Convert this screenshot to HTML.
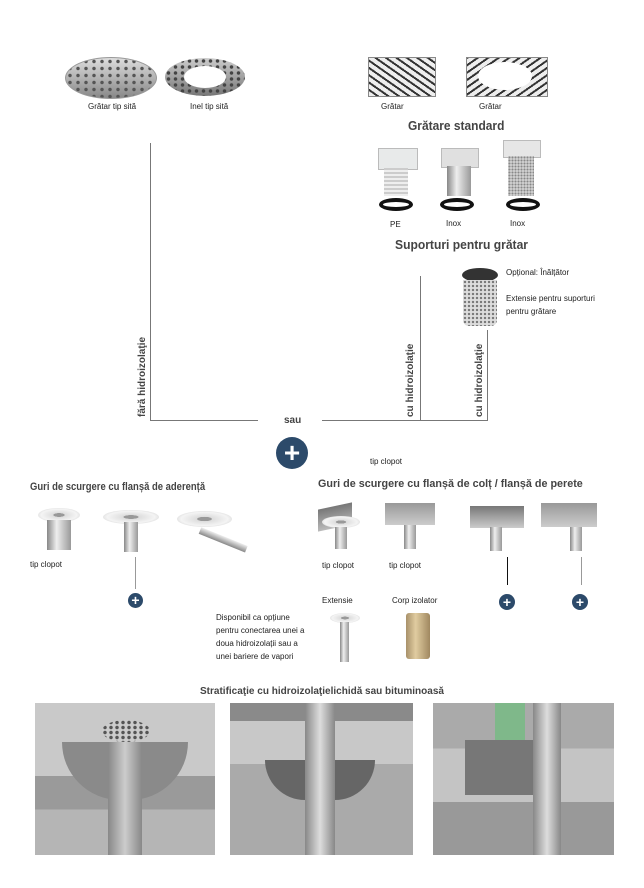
<!DOCTYPE html>
<html><head><meta charset="utf-8"><style>
body{margin:0;width:644px;height:888px;background:#fff;position:relative;overflow:hidden;font-family:"Liberation Sans",sans-serif;color:#222}
.a{position:absolute}
.t{position:absolute;font-size:8px;white-space:nowrap}
.b{position:absolute;font-weight:bold;color:#444;white-space:nowrap;transform-origin:left top}
.l{position:absolute;background:#777}
.pl{position:absolute;border-radius:50%;background:#2c4a6a;color:#fff;text-align:center;font-weight:bold;font-family:"Liberation Sans",sans-serif}
.rot{position:absolute;transform:rotate(-90deg);transform-origin:left top;font-weight:bold;font-size:10px;color:#444;white-space:nowrap}
.pipe{position:absolute;background:linear-gradient(90deg,#888,#eee 40%,#999);}
.disc{position:absolute;border-radius:50%;background:radial-gradient(#999 0 18%,#ddd 20%,#f4f4f4 60%,#bbb);}
.ring{position:absolute;border:4px solid #111;border-radius:50%;box-sizing:border-box}
</style></head><body>
<!-- round grates -->
<div class="a" style="left:65px;top:57px;width:90px;height:40px;border-radius:50%;background:radial-gradient(circle,#555 1.5px,transparent 2px) 0 0/8px 7px,linear-gradient(#ddd,#888);border:1px solid #999"></div>
<div class="a" style="left:165px;top:58px;width:80px;height:38px;border-radius:50%;background:radial-gradient(circle,#444 1.5px,transparent 2px) 0 0/7px 6px,linear-gradient(#ccc,#777)"></div>
<div class="a" style="left:184px;top:66px;width:42px;height:22px;border-radius:50%;background:#fff"></div>
<div class="t" style="left:88px;top:102px">Grătar tip sită</div>
<div class="t" style="left:190px;top:102px">Inel tip sită</div>
<!-- square grates -->
<div class="a" style="left:368px;top:57px;width:66px;height:38px;background:repeating-linear-gradient(35deg,#eee 0 4px,#333 4px 6px),#aaa;border:1px solid #888"></div>
<div class="a" style="left:466px;top:57px;width:80px;height:38px;background:repeating-linear-gradient(-35deg,#eee 0 4px,#333 4px 6px);border:1px solid #888"></div>
<div class="a" style="left:478px;top:62px;width:54px;height:28px;border-radius:50%;background:#fff"></div>
<div class="t" style="left:381px;top:102px">Grătar</div>
<div class="t" style="left:479px;top:102px">Grătar</div>
<div class="b" style="left:408px;top:118px;font-size:13px;transform:scaleX(0.92)">Grătare standard</div>
<!-- supports -->
<div class="a" style="left:378px;top:148px;width:38px;height:20px;background:#e8eaea;border:1px solid #bbb"></div>
<div class="a" style="left:384px;top:168px;width:24px;height:28px;background:repeating-linear-gradient(#ccc 0 2px,#eee 2px 4px)"></div>
<div class="a" style="left:441px;top:148px;width:36px;height:18px;background:#e0e0e0;border:1px solid #bbb"></div>
<div class="pipe" style="left:447px;top:166px;width:24px;height:30px"></div>
<div class="a" style="left:503px;top:140px;width:36px;height:16px;background:#e6e6e6;border:1px solid #bbb"></div>
<div class="a" style="left:508px;top:156px;width:26px;height:40px;background:radial-gradient(circle,#888 1px,transparent 1.3px) 0 0/3px 3px,#ddd"></div>
<div class="ring" style="left:379px;top:198px;width:34px;height:13px"></div>
<div class="ring" style="left:440px;top:198px;width:34px;height:13px"></div>
<div class="ring" style="left:506px;top:198px;width:34px;height:13px"></div>
<div class="t" style="left:390px;top:220px">PE</div>
<div class="t" style="left:446px;top:219px">Inox</div>
<div class="t" style="left:510px;top:219px">Inox</div>
<div class="b" style="left:395px;top:237px;font-size:13px;transform:scaleX(0.93)">Suporturi pentru grătar</div>
<!-- extension -->
<div class="a" style="left:462px;top:268px;width:36px;height:14px;border-radius:50%;background:#333"></div>
<div class="a" style="left:463px;top:280px;width:34px;height:46px;background:radial-gradient(circle,#777 1px,transparent 1.4px) 0 0/4px 4px,#ddd;border-radius:0 0 6px 6px"></div>
<div class="t" style="left:506px;top:268px">Opțional: Înălțător</div>
<div class="t" style="left:506px;top:292px;line-height:13px">Extensie pentru suporturi<br>pentru grătare</div>
<!-- lines -->
<div class="l" style="left:150px;top:143px;width:1px;height:277px"></div>
<div class="l" style="left:150px;top:420px;width:108px;height:1px"></div>
<div class="l" style="left:322px;top:420px;width:166px;height:1px"></div>
<div class="l" style="left:420px;top:276px;width:1px;height:145px"></div>
<div class="l" style="left:487px;top:330px;width:1px;height:91px"></div>
<div class="b" style="left:284px;top:415px;font-size:10px">sau</div>
<div class="rot" style="left:137px;top:417px">fără hidroizolaţie</div>
<div class="rot" style="left:405px;top:417px">cu hidroizolaţie</div>
<div class="rot" style="left:474px;top:417px">cu hidroizolaţie</div>
<div class="pl" style="left:276px;top:437px;width:32px;height:32px;line-height:32px;font-size:28px">+</div>
<div class="t" style="left:370px;top:457px">tip clopot</div>
<!-- drains -->
<div class="b" style="left:30px;top:481px;font-size:11px;transform:scaleX(0.86)">Guri de scurgere cu flanșă de aderență</div>
<div class="b" style="left:318px;top:478px;font-size:11px;transform:scaleX(0.98)">Guri de scurgere cu flanșă de colț / flanșă de perete</div>
<div class="disc" style="left:38px;top:508px;width:42px;height:14px"></div>
<div class="pipe" style="left:47px;top:520px;width:24px;height:30px"></div>
<div class="disc" style="left:103px;top:510px;width:56px;height:14px"></div>
<div class="pipe" style="left:124px;top:522px;width:14px;height:30px"></div>
<div class="disc" style="left:177px;top:511px;width:55px;height:16px"></div>
<div class="a" style="left:200px;top:527px;width:50px;height:7px;background:linear-gradient(#eee,#888);transform:rotate(22deg);transform-origin:left"></div>
<div class="t" style="left:30px;top:560px">tip clopot</div>
<div class="l" style="left:135px;top:557px;width:1px;height:32px;background:#999"></div>
<div class="pl" style="left:128px;top:593px;width:15px;height:15px;line-height:15px;font-size:14px">+</div>
<!-- corner drains -->
<div class="a" style="left:318px;top:506px;width:34px;height:22px;background:linear-gradient(#777,#bbb);transform:skewY(-12deg)"></div>
<div class="disc" style="left:322px;top:516px;width:38px;height:12px"></div>
<div class="pipe" style="left:335px;top:527px;width:12px;height:22px"></div>
<div class="a" style="left:385px;top:503px;width:50px;height:22px;background:linear-gradient(#999,#ccc)"></div>
<div class="pipe" style="left:404px;top:525px;width:12px;height:24px"></div>
<div class="a" style="left:470px;top:506px;width:54px;height:22px;background:linear-gradient(#777,#ccc)"></div>
<div class="pipe" style="left:490px;top:527px;width:12px;height:24px"></div>
<div class="a" style="left:541px;top:503px;width:56px;height:24px;background:linear-gradient(#999,#ccc)"></div>
<div class="pipe" style="left:570px;top:527px;width:12px;height:24px"></div>
<div class="t" style="left:322px;top:561px">tip clopot</div>
<div class="t" style="left:389px;top:561px">tip clopot</div>
<div class="l" style="left:507px;top:557px;width:1px;height:28px;background:#111"></div>
<div class="l" style="left:581px;top:557px;width:1px;height:28px;background:#999"></div>
<div class="pl" style="left:499px;top:594px;width:16px;height:16px;line-height:16px;font-size:14px">+</div>
<div class="pl" style="left:572px;top:594px;width:16px;height:16px;line-height:16px;font-size:14px">+</div>
<div class="t" style="left:322px;top:596px">Extensie</div>
<div class="t" style="left:392px;top:596px">Corp izolator</div>
<div class="t" style="left:216px;top:611px;line-height:13px">Disponibil ca opțiune<br>pentru conectarea unei a<br>doua hidroizolații sau a<br>unei bariere de vapori</div>
<div class="disc" style="left:330px;top:613px;width:30px;height:10px"></div>
<div class="pipe" style="left:340px;top:622px;width:9px;height:40px"></div>
<div class="a" style="left:406px;top:613px;width:24px;height:46px;background:linear-gradient(90deg,#a8916a,#e0cca0 40%,#a08860);border-radius:3px"></div>
<!-- bottom -->
<div class="b" style="left:0;width:644px;text-align:center;top:686px;font-size:10px">Stratificaţie cu hidroizolaţielichidă sau bituminoasă</div>
<div class="a" style="left:35px;top:703px;width:180px;height:152px;background:linear-gradient(#c9c9c9 0 48%,#9a9a9a 48% 70%,#b5b5b5 70%)"></div>
<div class="a" style="left:62px;top:742px;width:126px;height:58px;border-radius:0 0 63px 63px;background:#8a8a8a"></div>
<div class="a" style="left:102px;top:720px;width:48px;height:22px;border-radius:50%;background:radial-gradient(circle,#555 1.5px,transparent 2px) 0 0/6px 5px,#ccc"></div>
<div class="a" style="left:108px;top:742px;width:34px;height:113px;background:linear-gradient(90deg,#888,#ccc,#888)"></div>
<div class="a" style="left:230px;top:703px;width:183px;height:152px;background:linear-gradient(#8a8a8a 0 12%,#c8c8c8 12% 40%,#aaa 40%)"></div>
<div class="a" style="left:265px;top:760px;width:110px;height:40px;border-radius:0 0 55px 55px;background:#666"></div>
<div class="a" style="left:305px;top:703px;width:30px;height:152px;background:linear-gradient(90deg,#888,#ddd,#888)"></div>
<div class="a" style="left:433px;top:703px;width:181px;height:152px;background:linear-gradient(#aaa 0 30%,#c4c4c4 30% 65%,#999 65%)"></div>
<div class="a" style="left:495px;top:703px;width:30px;height:80px;background:#7fb88a"></div>
<div class="a" style="left:465px;top:740px;width:90px;height:55px;background:#777"></div>
<div class="a" style="left:533px;top:703px;width:28px;height:152px;background:linear-gradient(90deg,#888,#ddd,#888)"></div>
</body></html>
